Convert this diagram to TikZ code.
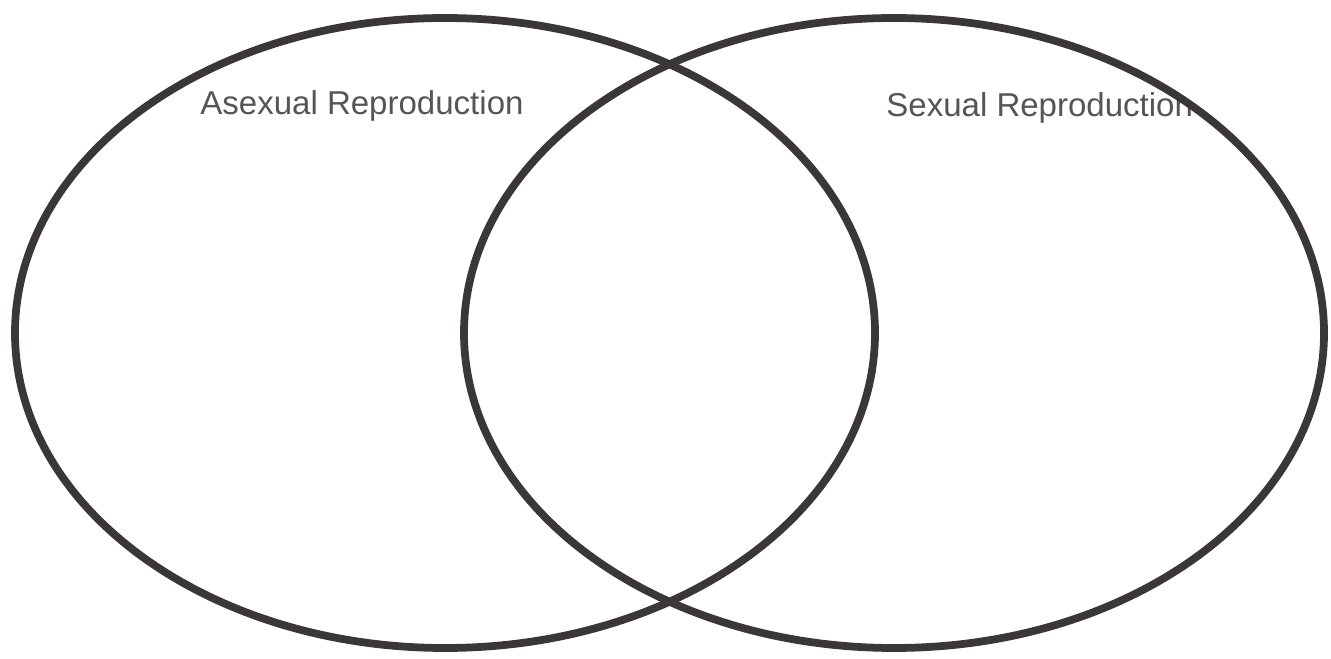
\documentclass[tikz,border=0pt]{standalone}
\usepackage{fontspec}
\setmainfont{Liberation Sans}
\usetikzlibrary{positioning,shapes.geometric}
\definecolor{ringgray}{HTML}{3B3638}
\definecolor{labelgray}{HTML}{555555}

\begin{document}
\begin{tikzpicture}[
    set/.style={ellipse, draw=ringgray, line width=0.155cm, minimum width=17.2cm, minimum height=12.6cm, inner sep=0pt},
    setlabel/.style={anchor=base west, inner sep=0pt, text=labelgray, font=\fontsize{18.8}{21}\selectfont},
]
\useasboundingbox (0,0) rectangle (26.62,13.16);

% Labels
\node[setlabel] (asexlabel) at (4.0,10.86) {Asexual Reproduction};
\node[setlabel] (sexlabel) at (17.72,10.82) {Sexual Reproduction};

% Sets
\node[set] (asex) at (8.9,6.5) {};
\node[set] (sex) at (17.88,6.5) {};

\end{tikzpicture}
\end{document}
